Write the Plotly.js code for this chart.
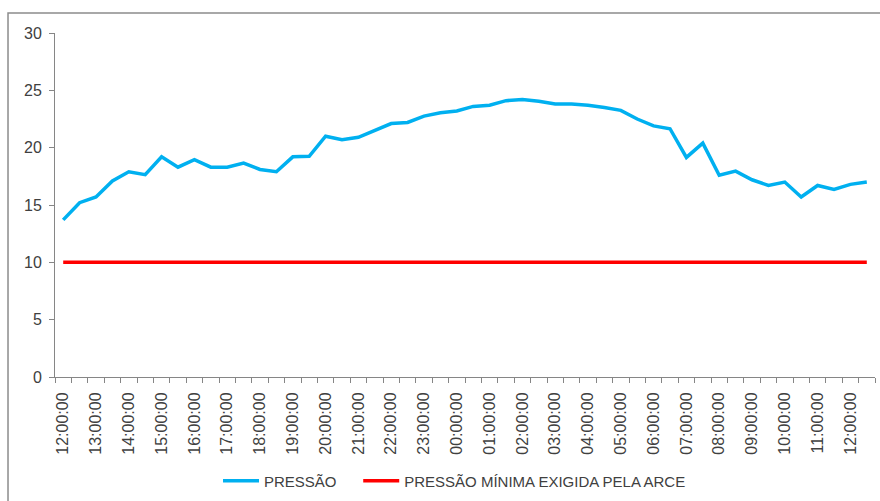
<!DOCTYPE html>
<html>
<head>
<meta charset="utf-8">
<script src="https://cdn.plot.ly/plotly-3.0.1.min.js"></script>
<style>html,body{margin:0;padding:0;background:#fff;}#chart{width:880px;height:501px;}</style>
</head>
<body>
<div id="chart"></div>
<script>
var timeLabels = ["12:00:00","12:30:00","13:00:00","13:30:00","14:00:00","14:30:00","15:00:00","15:30:00",
  "16:00:00","16:30:00","17:00:00","17:30:00","18:00:00","18:30:00","19:00:00","19:30:00",
  "20:00:00","20:30:00","21:00:00","21:30:00","22:00:00","22:30:00","23:00:00","23:30:00",
  "00:00:00","00:30:00","01:00:00","01:30:00","02:00:00","02:30:00","03:00:00","03:30:00",
  "04:00:00","04:30:00","05:00:00","05:30:00","06:00:00","06:30:00","07:00:00","07:30:00",
  "08:00:00","08:30:00","09:00:00","09:30:00","10:00:00","10:30:00","11:00:00","11:30:00",
  "12:00:00","12:30:00"];
var pressao = [13.7,15.2,15.7,17.1,17.9,17.65,19.2,18.3,18.95,18.3,18.3,18.65,18.1,17.9,19.2,19.25,
  21.0,20.7,20.9,21.5,22.1,22.2,22.75,23.05,23.2,23.6,23.7,24.1,24.2,24.05,23.8,23.8,
  23.7,23.5,23.25,22.5,21.9,21.65,19.15,20.4,17.6,17.95,17.2,16.7,17.0,15.7,16.7,16.35,16.8,17.0];
var pressaoMinima = [10,10,10,10,10,10,10,10,10,10,10,10,10,10,10,10,10,10,10,10,10,10,10,10,10,
  10,10,10,10,10,10,10,10,10,10,10,10,10,10,10,10,10,10,10,10,10,10,10,10,10];
var seriesNames = ["PRESSÃO","PRESSÃO MÍNIMA EXIGIDA PELA ARCE"];

var idx = timeLabels.map(function(_, i){ return i; });
var tickVals = [], tickText = [];
for (var i = 0; i < timeLabels.length; i += 2) { tickVals.push(i); tickText.push(timeLabels[i]); }
var boundaries = [];
for (var j = 0; j <= timeLabels.length; j++) boundaries.push(j - 0.5);

var font = "Liberation Sans, Arial, sans-serif";
var txt = "#404040";
var axisGray = "#868686";
var pad = "\u00a0\u00a0\u00a0\u00a0";

var traces = [
  {x: idx, y: pressao, type: "scatter", mode: "lines", name: seriesNames[0] + pad,
   line: {color: "#00B0F0", width: 3.5}},
  {x: idx, y: pressaoMinima, type: "scatter", mode: "lines", name: seriesNames[1],
   line: {color: "#FF0000", width: 3.5}}
];

var layout = {
  width: 880, height: 501,
  margin: {l: 55, r: 5, t: 33, b: 124},
  paper_bgcolor: "#fff", plot_bgcolor: "#fff",
  font: {family: font, color: txt, size: 16},
  showlegend: true,
  legend: {orientation: "h", x: 0.1988, xanchor: "left", yref: "container", y: 0.04, yanchor: "middle",
           font: {family: font, size: 15, color: txt}, itemwidth: 36, tracegroupgap: 0},
  xaxis: {
    range: [-0.5, timeLabels.length - 0.5],
    tickmode: "array", tickvals: tickVals, ticktext: tickText, tickangle: -90,
    ticks: "", showgrid: false, zeroline: false,
    showline: true, linecolor: axisGray, linewidth: 1,
    tickfont: {family: font, size: 16, color: txt},
    ticklabelstandoff: 8,
    minor: {tickmode: "array", tickvals: boundaries, ticks: "outside", ticklen: 5, tickcolor: axisGray, tickwidth: 1, showgrid: false}
  },
  yaxis: {
    range: [0, 30], tickmode: "array", tickvals: [0,5,10,15,20,25,30],
    ticks: "outside", ticklen: 5, tickcolor: axisGray, tickwidth: 1,
    showgrid: false, zeroline: false,
    showline: true, linecolor: axisGray, linewidth: 1,
    tickfont: {family: font, size: 16, color: txt},
    ticklabelstandoff: 4
  },
  shapes: [
    {type: "rect", xref: "paper", yref: "paper", x0: -0.0573, x1: 1.02, y0: -0.4, y1: 1.058,
     line: {color: "#8c8c8c", width: 1.5}, fillcolor: "rgba(0,0,0,0)", layer: "below"}
  ]
};

Plotly.newPlot("chart", traces, layout, {displayModeBar: false, staticPlot: true});
</script>
</body>
</html>
